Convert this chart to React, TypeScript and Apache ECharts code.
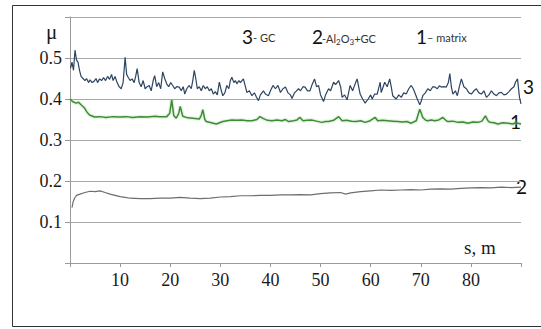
import React, { useEffect, useRef } from "react";
import * as echarts from "echarts";

// distance s (m) and friction coefficient μ
const gcSeries: [number, number][] = [
  [0.1, 0.475], [0.4, 0.49], [0.7, 0.47], [1.0, 0.519], [1.3, 0.495], [1.6, 0.49], [1.9, 0.47],
  [2.2, 0.455], [2.6, 0.45], [3.0, 0.445], [3.3, 0.45], [3.7, 0.44], [4.0, 0.447], [4.4, 0.44],
  [4.8, 0.443], [5.2, 0.45], [5.5, 0.44], [5.9, 0.449], [6.3, 0.445], [6.7, 0.452], [7.1, 0.445],
  [7.5, 0.455], [7.9, 0.448], [8.3, 0.46], [8.6, 0.445], [9.0, 0.455], [9.4, 0.44], [9.8, 0.43],
  [10.2, 0.425], [10.6, 0.44], [11.0, 0.502], [11.3, 0.46], [11.6, 0.453], [12.0, 0.445], [12.4, 0.449],
  [12.8, 0.44], [13.1, 0.455], [13.4, 0.474], [13.8, 0.44], [14.2, 0.43], [14.6, 0.445], [15.0, 0.425],
  [15.4, 0.43], [15.8, 0.433], [16.2, 0.42], [16.6, 0.445], [16.9, 0.457], [17.3, 0.43], [17.7, 0.44],
  [18.1, 0.425], [18.5, 0.466], [18.9, 0.45], [19.3, 0.437], [19.7, 0.43], [20.1, 0.44], [20.5, 0.433],
  [20.9, 0.425], [21.3, 0.43], [21.8, 0.429], [22.2, 0.42], [22.6, 0.43], [22.9, 0.412], [23.3, 0.425],
  [23.8, 0.433], [24.2, 0.425], [24.5, 0.445], [24.8, 0.47], [25.1, 0.45], [25.4, 0.425], [25.8, 0.43],
  [26.2, 0.42], [26.6, 0.433], [27.0, 0.425], [27.4, 0.43], [27.8, 0.42], [28.2, 0.425], [28.6, 0.412],
  [29.0, 0.418], [29.4, 0.41], [29.8, 0.441], [30.2, 0.42], [30.5, 0.408], [30.9, 0.415], [31.3, 0.433],
  [31.7, 0.425], [32.0, 0.445], [32.3, 0.453], [32.7, 0.44], [33.0, 0.445], [33.3, 0.437], [33.7, 0.445],
  [34.0, 0.44], [34.6, 0.449], [35.0, 0.43], [35.3, 0.416], [35.8, 0.42], [36.3, 0.408], [36.8, 0.415],
  [37.2, 0.405], [37.6, 0.396], [38.0, 0.41], [38.6, 0.42], [39.0, 0.412], [39.6, 0.408], [40.0, 0.42],
  [40.5, 0.433], [41.0, 0.425], [41.5, 0.433], [42.0, 0.416], [42.5, 0.425], [43.0, 0.429], [43.5, 0.415],
  [44.0, 0.41], [44.3, 0.401], [44.8, 0.415], [45.2, 0.42], [45.6, 0.425], [46.0, 0.42], [46.5, 0.43],
  [46.9, 0.429], [47.4, 0.42], [47.9, 0.42], [48.3, 0.435], [48.8, 0.449], [49.2, 0.43], [49.6, 0.433],
  [50.0, 0.41], [50.6, 0.394], [51.0, 0.41], [51.6, 0.425], [52.0, 0.42], [52.6, 0.441], [53.0, 0.435],
  [53.6, 0.445], [54.0, 0.43], [54.3, 0.404], [54.8, 0.41], [55.3, 0.398], [55.9, 0.433], [56.4, 0.42],
  [57.0, 0.44], [57.3, 0.449], [57.6, 0.43], [57.9, 0.412], [58.4, 0.4], [58.9, 0.39], [59.5, 0.4],
  [60.0, 0.41], [60.3, 0.4], [60.8, 0.412], [61.3, 0.412], [61.9, 0.441], [62.1, 0.416], [62.5, 0.43],
  [62.8, 0.441], [63.3, 0.43], [63.8, 0.449], [64.1, 0.43], [64.4, 0.408], [65.1, 0.4], [65.6, 0.41],
  [66.1, 0.404], [66.6, 0.415], [67.1, 0.412], [67.6, 0.425], [68.1, 0.433], [68.5, 0.425], [68.8, 0.416],
  [69.3, 0.4], [69.8, 0.386], [70.1, 0.395], [70.4, 0.408], [70.9, 0.415], [71.4, 0.425], [71.9, 0.42],
  [72.4, 0.43], [72.8, 0.429], [73.3, 0.425], [73.7, 0.432], [74.1, 0.429], [74.6, 0.43], [75.1, 0.429],
  [75.5, 0.44], [75.8, 0.462], [76.1, 0.43], [76.4, 0.412], [76.9, 0.42], [77.3, 0.408], [77.7, 0.43],
  [78.1, 0.449], [78.6, 0.43], [79.1, 0.425], [79.6, 0.415], [80.1, 0.412], [80.6, 0.42], [81.1, 0.425],
  [81.6, 0.415], [82.1, 0.412], [82.6, 0.42], [83.1, 0.404], [83.6, 0.41], [84.1, 0.42], [84.6, 0.412],
  [85.1, 0.408], [85.6, 0.415], [86.1, 0.416], [86.6, 0.41], [87.1, 0.412], [87.6, 0.418], [88.1, 0.425],
  [88.6, 0.43], [88.9, 0.441], [89.3, 0.449], [89.7, 0.404], [90.0, 0.388],
];

const matrixSeries: [number, number][] = [
  [0, 0.4], [0.5, 0.394], [1.2, 0.39], [1.7, 0.392], [2.2, 0.386], [2.9, 0.378], [3.4, 0.368],
  [3.9, 0.361], [4.9, 0.356], [6, 0.357], [7.2, 0.355], [8.5, 0.357], [10, 0.356], [11.2, 0.357],
  [12.5, 0.355], [14, 0.357], [15.5, 0.356], [17, 0.358], [17.8, 0.357], [19.3, 0.357], [19.9, 0.365],
  [20.3, 0.398], [20.7, 0.36], [21.2, 0.353], [21.7, 0.365], [22.0, 0.382], [22.5, 0.358], [23.5, 0.354],
  [24.5, 0.353], [25.8, 0.351], [26.2, 0.36], [26.5, 0.374], [26.9, 0.35], [27.2, 0.345], [28.2, 0.342],
  [29.2, 0.339], [30.5, 0.345], [31.3, 0.347], [32.3, 0.349], [33.3, 0.348], [34.3, 0.349], [35.3, 0.347],
  [36.3, 0.347], [37.3, 0.35], [37.9, 0.357], [38.6, 0.352], [39.4, 0.348], [40.3, 0.347], [41.3, 0.349],
  [42.3, 0.347], [43.0, 0.35], [43.6, 0.345], [44.6, 0.347], [45.3, 0.349], [45.9, 0.355], [46.5, 0.347],
  [47.3, 0.348], [48.2, 0.349], [49.2, 0.346], [50.2, 0.343], [51.0, 0.345], [51.6, 0.345], [52.6, 0.348],
  [53.6, 0.357], [54.3, 0.347], [55.2, 0.348], [56.2, 0.346], [57.1, 0.345], [58.0, 0.347], [58.9, 0.343],
  [59.9, 0.347], [60.9, 0.355], [61.4, 0.347], [62.4, 0.348], [63.4, 0.347], [64.4, 0.346], [65.4, 0.345],
  [66.4, 0.344], [67.2, 0.345], [68.1, 0.341], [69.1, 0.347], [69.8, 0.375], [70.4, 0.355], [71.0, 0.348],
  [71.4, 0.347], [72.1, 0.349], [72.8, 0.347], [73.6, 0.349], [74.4, 0.355], [75.0, 0.348], [75.4, 0.345],
  [76.4, 0.346], [77.4, 0.343], [78.4, 0.344], [79.4, 0.341], [80.4, 0.344], [81.4, 0.343], [82.2, 0.346],
  [82.9, 0.359], [83.4, 0.347], [83.8, 0.343], [84.6, 0.342], [85.4, 0.339], [86.4, 0.342], [87.4, 0.341],
  [88.4, 0.339], [89.0, 0.343], [89.4, 0.341], [90.0, 0.339],
];

const al2o3Series: [number, number][] = [
  [0.4, 0.135], [0.6, 0.148], [0.9, 0.158], [1.3, 0.165], [2, 0.168], [3, 0.172], [4, 0.175],
  [5, 0.174], [6, 0.176], [7, 0.172], [8, 0.168], [9, 0.165], [10, 0.162], [11, 0.16], [12, 0.158],
  [14, 0.157], [16, 0.157], [18, 0.158], [20, 0.158], [22, 0.16], [24, 0.158], [26, 0.157], [28, 0.158],
  [30, 0.161], [32, 0.162], [34, 0.164], [36, 0.164], [38, 0.165], [40, 0.165], [42, 0.166], [44, 0.166],
  [46, 0.167], [48, 0.166], [50, 0.169], [52, 0.171], [54, 0.172], [55, 0.168], [56, 0.171], [58, 0.174],
  [60, 0.176], [62, 0.178], [64, 0.177], [66, 0.178], [68, 0.179], [70, 0.178], [72, 0.18], [74, 0.181],
  [76, 0.18], [78, 0.182], [80, 0.183], [82, 0.184], [84, 0.183], [86, 0.185], [88, 0.184], [90, 0.185],
];

const xShownTicks = [10, 20, 30, 40, 50, 60, 70, 80];
const yShownTicks = [0.1, 0.2, 0.3, 0.4, 0.5];

const SERIF = "'Liberation Serif', 'DejaVu Serif', serif";
const SANS = "Lato, 'Open Sans', 'Liberation Sans', sans-serif";

export default function App() {
  const ref = useRef<HTMLDivElement>(null);
  useEffect(() => {
    document.body.style.margin = "0";
    const chart = echarts.init(ref.current!, null, { renderer: "svg" });
    const txt = (text: string, x: number, y: number, size: number, family: string, color = "#1a1a1a") => ({
      type: "text",
      x,
      y,
      silent: true,
      style: { text, fontSize: size, fontFamily: family, fill: color, textAlign: "left", textVerticalAlign: "middle", align: "left", verticalAlign: "middle" },
    });
    chart.setOption({
      animation: false,
      backgroundColor: "#ffffff",
      grid: { left: 70, right: 20, top: 17, bottom: 66, containLabel: false },
      xAxis: {
        type: "value",
        min: 0,
        max: 90,
        interval: 10,
        axisLine: { show: true, onZero: false, lineStyle: { color: "#9a9a9a", width: 1 } },
        axisTick: { show: true, length: 4, lineStyle: { color: "#9a9a9a" } },
        splitLine: { show: false },
        axisLabel: {
          margin: 8,
          fontFamily: SERIF,
          fontSize: 18,
          color: "#1a1a1a",
          formatter: (v: number) => (xShownTicks.includes(Math.round(v)) ? String(Math.round(v)) : ""),
        },
      },
      yAxis: {
        type: "value",
        min: 0,
        max: 0.6,
        interval: 0.1,
        axisLine: { show: true, lineStyle: { color: "#9a9a9a", width: 1 } },
        axisTick: { show: true, length: 5, lineStyle: { color: "#9a9a9a" } },
        splitLine: { show: true, lineStyle: { color: "#a8a8a8", width: 1 } },
        axisLabel: {
          margin: 8,
          fontFamily: SERIF,
          fontSize: 18,
          color: "#1a1a1a",
          formatter: (v: number) => {
            const r = Math.round(v * 10) / 10;
            return yShownTicks.includes(r) ? r.toFixed(1) : "";
          },
        },
      },
      series: [
        {
          name: "2-Al2O3+GC",
          type: "line",
          data: al2o3Series,
          showSymbol: false,
          lineStyle: { color: "#6e6e6e", width: 1.2 },
        },
        {
          name: "1-matrix halo",
          type: "line",
          data: matrixSeries,
          showSymbol: false,
          silent: true,
          lineStyle: { color: "rgba(150,215,140,0.25)", width: 4 },
        },
        {
          name: "1-matrix",
          type: "line",
          data: matrixSeries,
          showSymbol: false,
          lineStyle: { color: "#3f8a38", width: 1.5 },
        },
        {
          name: "3-GC",
          type: "line",
          data: gcSeries,
          showSymbol: false,
          lineStyle: { color: "#2e4461", width: 1.2 },
        },
      ],
      graphic: [
        { type: "line", silent: true, shape: { x1: 12.5, y1: 5.5, x2: 545, y2: 5.5 }, style: { stroke: "#333", lineWidth: 1 } },
        { type: "line", silent: true, shape: { x1: 12.5, y1: 5.5, x2: 12.5, y2: 326.5 }, style: { stroke: "#333", lineWidth: 1 } },
        { type: "line", silent: true, shape: { x1: 12.5, y1: 326.5, x2: 545, y2: 326.5 }, style: { stroke: "#333", lineWidth: 1 } },
        txt("μ", 46, 32, 21, SERIF),
        txt("s, m", 464, 247, 19, SERIF),
        txt("3", 242, 36, 19, SANS, "#111"),
        txt("- GC", 253, 37, 11, SANS, "#333"),
        txt("2", 312, 36, 19, SANS, "#111"),
        {
          type: "text",
          x: 322,
          y: 38,
          silent: true,
          style: {
            text: "{m|-Al}{b|2}{m|O}{b|3}{m|+GC}",
            fontFamily: SANS,
            fill: "#333",
            textAlign: "left",
            textVerticalAlign: "middle",
            align: "left",
            verticalAlign: "middle",
            rich: {
              m: { fontSize: 11, fontFamily: SANS, fill: "#333", lineHeight: 16, verticalAlign: "middle" },
              b: { fontSize: 8, fontFamily: SANS, fill: "#333", lineHeight: 9, verticalAlign: "bottom" },
            },
          },
        },
        txt("1", 416, 36, 19, SANS, "#111"),
        txt("– matrix", 427, 37, 11, SANS, "#333"),
        txt("3", 523, 86, 19, SANS, "#111"),
        txt("1", 510, 121, 19, SANS, "#111"),
        txt("2", 516, 186, 19, SANS, "#111"),
      ],
    });
    return () => chart.dispose();
  }, []);
  return <div ref={ref} style={{ width: 541, height: 329, background: "#fff" }} />;
}
